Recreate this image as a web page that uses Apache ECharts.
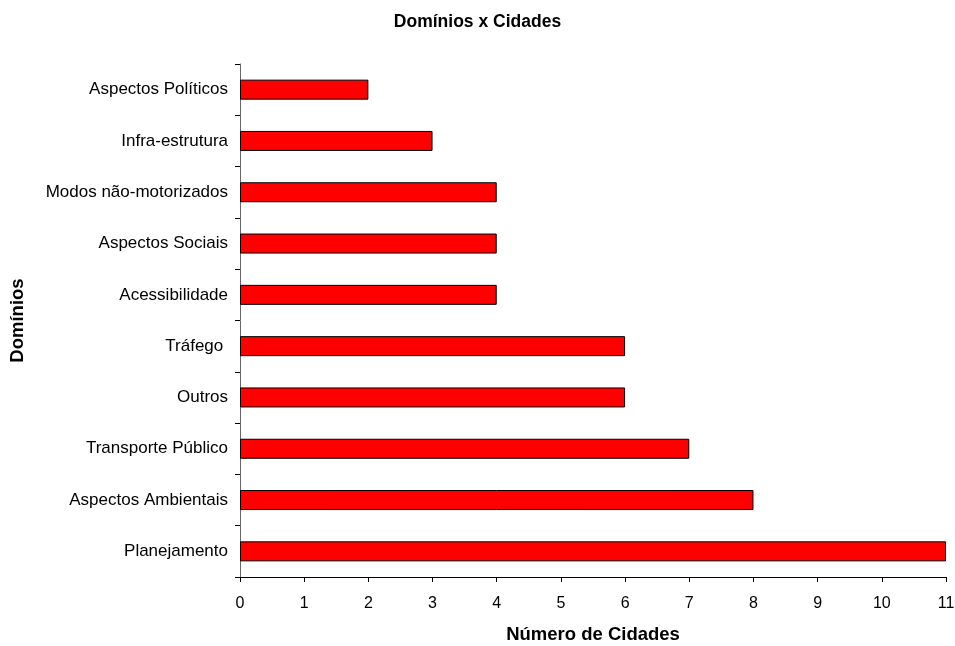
<!DOCTYPE html>
<html><head><meta charset="utf-8">
<script src="https://cdn.jsdelivr.net/npm/echarts@6/dist/echarts.min.js"></script>
<style>html,body{margin:0;padding:0;background:#fff}#c{width:955px;height:646px}</style>
</head><body><div id="c"></div>
<script>
const categories = ['Planejamento', 'Aspectos Ambientais', 'Transporte Público', 'Outros', 'Tráfego ', 'Acessibilidade', 'Aspectos Sociais', 'Modos não-motorizados', 'Infra-estrutura', 'Aspectos Políticos'];
const values = [11, 8, 7, 6, 6, 4, 4, 4, 3, 2];
const xTicks = [0,1,2,3,4,5,6,7,8,9,10,11];

const chart = echarts.init(document.getElementById('c'), null, {renderer:'canvas'});
const font = 'Arial, "Liberation Sans", sans-serif';
chart.setOption({
  animation: false,
  backgroundColor: '#fff',
  title: {
    text: 'Domínios x Cidades', left: 'center', top: 8,
    textStyle: {fontFamily: font, fontSize: 17.5, fontWeight: 'bold', color: '#000'}
  },
  grid: {left: 240, right: 9, top: 64, bottom: 69, containLabel: false, outerBoundsMode: 'none'},
  xAxis: {
    type: 'value', min: 0, max: xTicks[xTicks.length-1], interval: 1,
    name: 'Número de Cidades', nameLocation: 'middle', nameGap: 48,
    nameTextStyle: {fontFamily: font, fontSize: 18.5, fontWeight: 'bold', color: '#000'},
    axisLine: {show: true, lineStyle: {color: '#000', width: 1}},
    axisTick: {show: true, length: 5, lineStyle: {color: '#000'}},
    axisLabel: {fontFamily: font, fontSize: 16, color: '#000', margin: 19},
    splitLine: {show: false}
  },
  yAxis: {
    type: 'category', data: categories,
    name: 'Domínios', nameLocation: 'middle', nameGap: 213, nameRotate: 90,
    nameTextStyle: {fontFamily: font, fontSize: 18.5, fontWeight: 'bold', color: '#000'},
    axisLine: {show: true, lineStyle: {color: '#666', width: 1}},
    axisTick: {show: true, length: 5, lineStyle: {color: '#000'}},
    axisLabel: {fontFamily: font, fontSize: 17, color: '#000', margin: 12}
  },
  series: [{
    type: 'bar', data: values, barWidth: 20,
    itemStyle: {color: '#ff0000', borderColor: '#000', borderWidth: 1}
  }]
});
</script></body></html>
